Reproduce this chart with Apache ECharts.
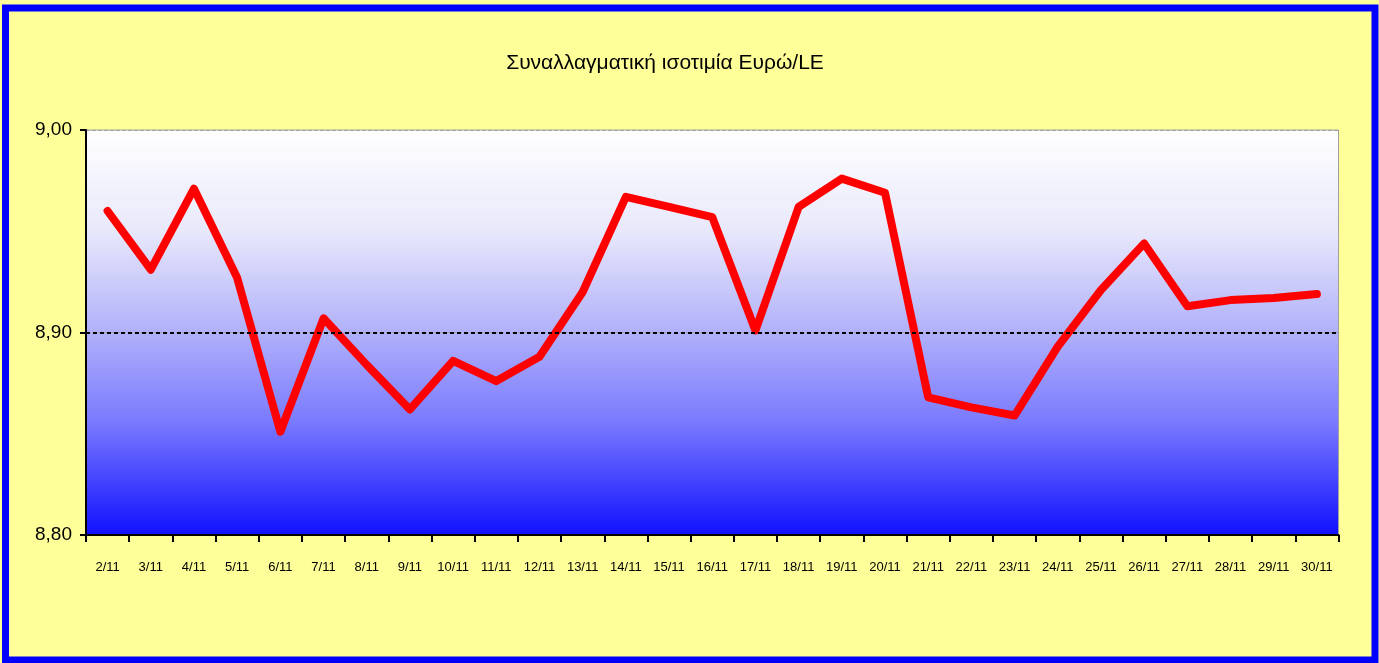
<!DOCTYPE html>
<html>
<head>
<meta charset="utf-8">
<script src="https://cdn.jsdelivr.net/npm/echarts@6/dist/echarts.min.js"></script>
<style>
  html, body { margin: 0; padding: 0; background: #FFFF99; }
  #chart { width: 1379px; height: 663px; }
</style>
</head>
<body>
<div id="chart"></div>
<script>
const days = ['2/11', '3/11', '4/11', '5/11', '6/11', '7/11', '8/11', '9/11', '10/11', '11/11',
  '12/11', '13/11', '14/11', '15/11', '16/11', '17/11', '18/11', '19/11', '20/11', '21/11',
  '22/11', '23/11', '24/11', '25/11', '26/11', '27/11', '28/11', '29/11', '30/11']
const rate = [8.960, 8.931, 8.971, 8.927, 8.851, 8.907, 8.884, 8.862, 8.886, 8.876,
  8.888, 8.920, 8.967, 8.962, 8.957, 8.901, 8.962, 8.976, 8.969, 8.868,
  8.863, 8.859, 8.893, 8.921, 8.944, 8.913, 8.916, 8.917, 8.919]
const refLine = 8.90

const font = '"Liberation Sans", Arial, sans-serif'
const chart = echarts.init(document.getElementById('chart'))

chart.setOption({
  backgroundColor: '#FFFF99',
  animation: false,
  title: {
    text: 'Συναλλαγματική ισοτιμία Ευρώ/LE',
    left: 660,
    textAlign: 'center',
    top: 48,
    textStyle: { fontFamily: font, fontWeight: 'normal', fontSize: 21, color: '#000' }
  },
  graphic: [{
    type: 'rect',
    shape: { x: 5.5, y: 8, width: 1369.5, height: 652 },
    style: { fill: 'none', stroke: '#0000FF', lineWidth: 7 },
    silent: true
  }],
  grid: {
    left: 86, right: 40.5, top: 130, bottom: 128,
    show: true,
    borderColor: '#A0A0A0',
    borderWidth: 1,
    backgroundColor: {
      type: 'linear', x: 0, y: 0, x2: 0, y2: 1,
      colorStops: [
        { offset: 0, color: '#FFFFFF' },
        { offset: 0.25, color: '#E8E8FB' },
        { offset: 0.5, color: '#B0B0FA' },
        { offset: 0.72, color: '#7A7AFF' },
        { offset: 1, color: '#1010FF' }
      ]
    }
  },
  xAxis: {
    type: 'category',
    data: days,
    boundaryGap: true,
    axisLine: { lineStyle: { color: '#000', width: 2 } },
    axisTick: { show: true, length: 7, lineStyle: { color: '#000', width: 2 } },
    axisLabel: { margin: 26, fontFamily: font, fontSize: 13, color: '#000', interval: 0 },
    splitLine: { show: false }
  },
  yAxis: {
    type: 'value',
    min: 8.8,
    max: 9.0,
    interval: 0.1,
    axisLine: { show: true, lineStyle: { color: '#000', width: 2 } },
    axisTick: { show: true, length: 6, lineStyle: { color: '#000', width: 2 } },
    axisLabel: {
      margin: 14, fontFamily: font, fontSize: 19, color: '#000',
      formatter: v => v.toFixed(2).replace('.', ',')
    },
    splitLine: { show: true, lineStyle: { color: '#A0A0A0', type: 'dashed', width: 1 } }
  },
  series: [{
    type: 'line',
    data: rate,
    showSymbol: false,
    symbol: 'none',
    lineStyle: { color: '#FF0000', width: 8, cap: 'round', join: 'round' },
    markLine: {
      silent: true,
      symbol: 'none',
      label: { show: false },
      lineStyle: { color: '#000', type: [4, 3], width: 2 },
      data: [{ yAxis: refLine }]
    },
    z: 3
  }]
})
</script>
</body>
</html>
